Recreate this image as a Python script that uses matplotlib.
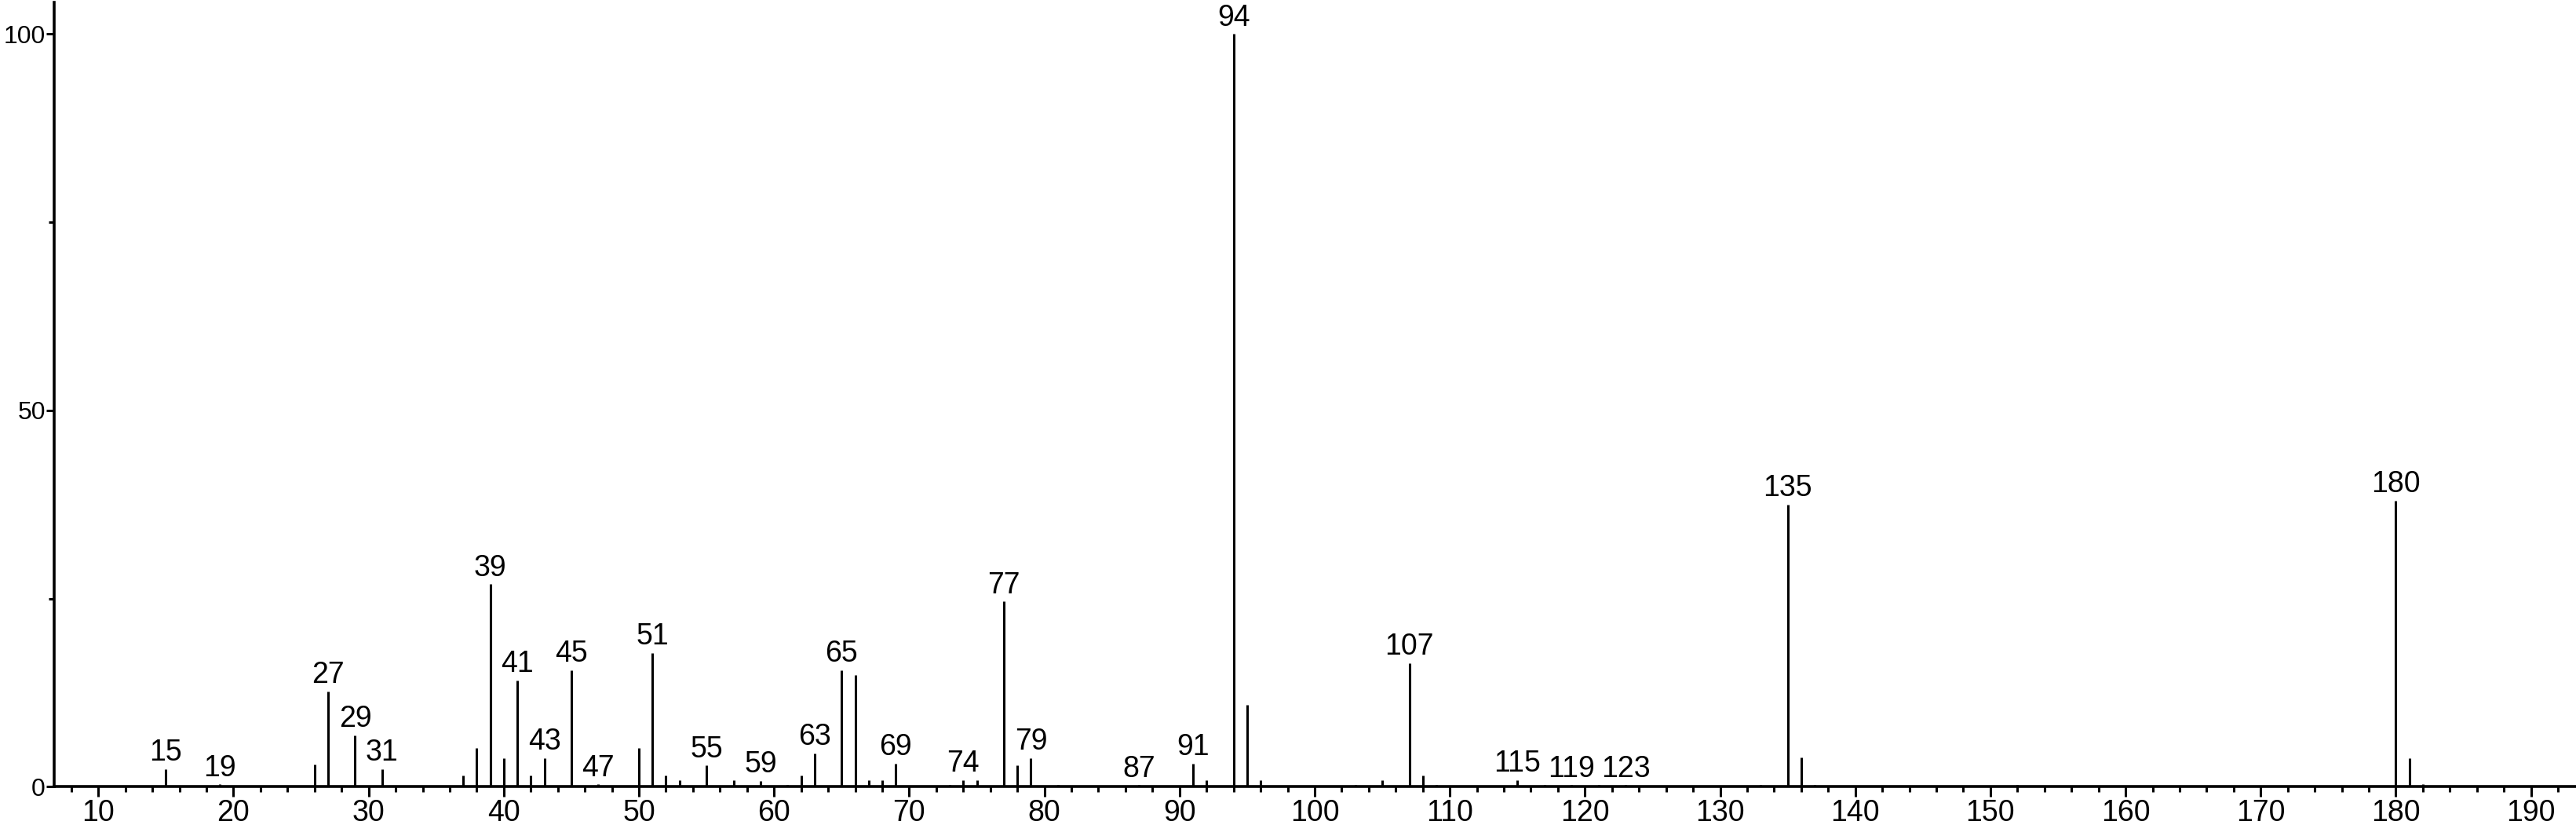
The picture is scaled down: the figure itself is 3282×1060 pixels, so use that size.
import matplotlib
matplotlib.use("Agg")
import matplotlib.pyplot as plt
import matplotlib.ticker as mticker

# Espectro de masas: m/z e intensidad relativa (%)
mz = [15, 19, 26, 27, 29, 31, 37, 38, 39, 40, 41, 42, 43, 45, 47, 50, 51, 52,
      53, 55, 57, 59, 61, 62, 63, 65, 66, 67, 68, 69, 73, 74, 75, 77, 78, 79,
      81, 87, 91, 92, 94, 95, 96, 103, 105, 107, 108, 109, 115, 117, 119, 121,
      123, 133, 135, 136, 137, 152, 180, 181, 182]
intensidad = [2.3, 0.3, 2.9, 12.7, 6.8, 2.3, 1.5, 5.1, 26.9, 3.8, 14.1, 1.5,
              3.8, 15.5, 0.3, 5.1, 17.8, 1.5, 0.9, 2.8, 0.9, 0.8, 0.2, 1.5,
              4.4, 15.5, 14.8, 0.9, 0.9, 3.1, 0.2, 0.9, 0.9, 24.6, 2.8, 3.8,
              0.2, 0.2, 3.1, 0.9, 100.0, 10.9, 0.9, 0.2, 0.9, 16.4, 1.5, 0.2,
              0.9, 0.2, 0.2, 0.2, 0.2, 0.2, 37.5, 3.9, 0.2, 0.2, 38.0, 3.8, 0.3]

# Picos con etiqueta
etiquetados = [15, 19, 27, 29, 31, 39, 41, 43, 45, 47, 51, 55, 59, 63, 65, 69,
               74, 77, 79, 87, 91, 94, 107, 115, 119, 123, 135, 180]

FUENTE = "Liberation Sans"
TAM = 27
GROSOR = 2.2

fig = plt.figure(figsize=(32.82, 10.60), dpi=100)
ax = fig.add_axes([69 / 3282, 57.7 / 1060, 1 - 69 / 3282, (1002.3 - 3) / 1060])

ax.vlines(mz, 0, intensidad, color="black", linewidth=GROSOR)

for m in etiquetados:
    y = intensidad[mz.index(m)]
    ax.annotate(str(m), xy=(m, y), xytext=(0, 2), textcoords="offset points",
                ha="center", va="bottom", fontsize=TAM, family=FUENTE)

ax.set_xlim(6.73, 193.33)
ax.set_ylim(0, 104.2)

ax.xaxis.set_major_locator(mticker.MultipleLocator(10))
ax.xaxis.set_minor_locator(mticker.MultipleLocator(2))
ax.yaxis.set_major_locator(mticker.FixedLocator([0, 50, 100]))
ax.yaxis.set_minor_locator(mticker.FixedLocator([25, 75]))

ax.tick_params(axis="x", which="major", direction="out", length=9,
               width=GROSOR, labelsize=TAM, pad=2)
ax.tick_params(axis="y", which="major", direction="out", length=7,
               width=GROSOR, labelsize=23, pad=1)
ax.tick_params(axis="both", which="minor", direction="out", length=5,
               width=GROSOR)
for lab in ax.get_xticklabels() + ax.get_yticklabels():
    lab.set_family(FUENTE)

for lado in ["top", "right"]:
    ax.spines[lado].set_visible(False)
for lado in ["left", "bottom"]:
    ax.spines[lado].set_linewidth(2.6)

plt.savefig("out.png", dpi=100)
